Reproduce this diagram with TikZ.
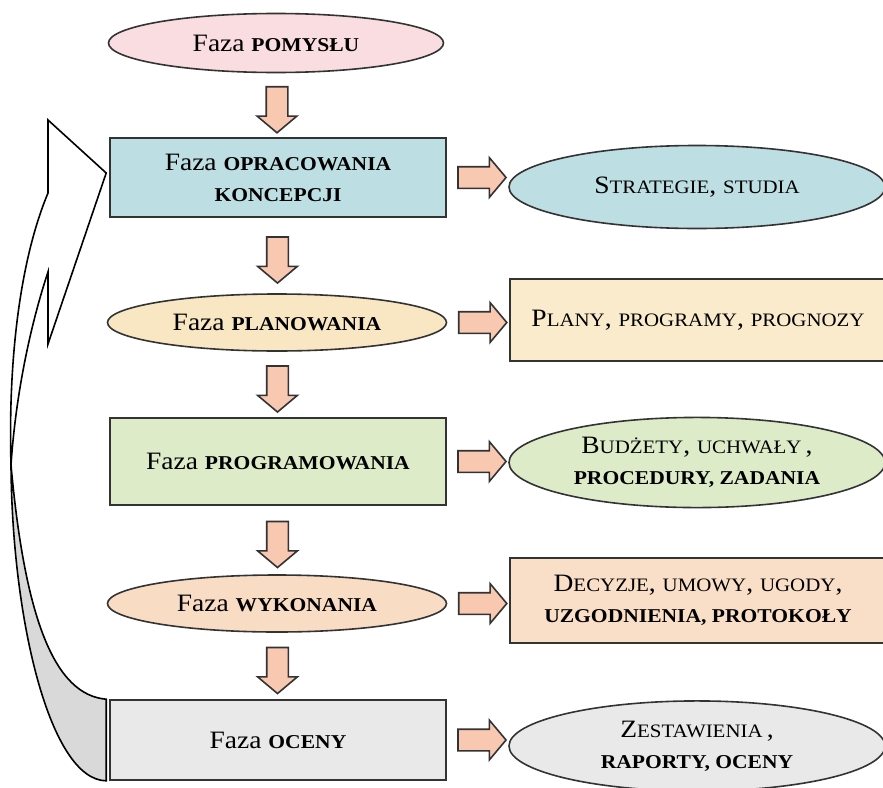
\documentclass[tikz,border=0pt]{standalone}
\usepackage{fontspec}
\setmainfont{Liberation Serif}[FakeStretch=1.1]
\usepackage{xcolor}
\usetikzlibrary{positioning,calc,shapes.geometric,shapes.arrows}
\definecolor{pinkfill}{HTML}{F9DDE0}
\definecolor{tealfill}{HTML}{BDDEE2}
\definecolor{creamoval}{HTML}{F8E7C2}
\definecolor{creambox}{HTML}{F9EBCB}
\definecolor{greenfill}{HTML}{DDEBC8}
\definecolor{peachoval}{HTML}{F9DCC4}
\definecolor{peachbox}{HTML}{FADFC8}
\definecolor{grayfill}{HTML}{E9E9E9}
\definecolor{arrowfill}{HTML}{F8C8B0}
\definecolor{backgray}{HTML}{D9D9D9}
\newcommand{\smc}[1]{{\fontsize{9.5}{15.5}\selectfont #1}}
\newcommand{\bcap}[1]{{\fontsize{9.8}{15.5}\selectfont\bfseries #1}}

\begin{document}
\begin{tikzpicture}[x=0.5pt,y=-0.5pt,line width=0.8pt,
  every node/.style={font=\fontsize{12.5}{15.5}\selectfont,align=center},
  phasebox/.style={draw=black!80,rectangle,minimum width=168pt},
  phaseoval/.style={draw=black!80,ellipse,minimum width=169.5pt,minimum height=28.5pt},
  resultbox/.style={draw=black!80,rectangle,minimum width=188pt},
  resultoval/.style={draw=black!80,ellipse,minimum width=188pt},
  downarr/.style={single arrow,draw=black!80,fill=arrowfill,rotate=-90,
    minimum height=23pt,single arrow head extend=4.5pt,single arrow tip angle=100,inner sep=5pt},
  rightarr/.style={single arrow,draw=black!80,fill=arrowfill,
    minimum height=24pt,single arrow head extend=4.5pt,single arrow tip angle=100,inner sep=5pt}]
  \useasboundingbox (0,0) rectangle (883,787);

  % phases
  \node[phaseoval,fill=pinkfill,minimum width=167.5pt,minimum height=29.5pt] (pomyslu) at (276,43) {Faza \bcap{POMYSŁU}};
  \node[phasebox,fill=tealfill,minimum height=39.5pt] (koncepcji) at (278,177.5) {Faza \bcap{OPRACOWANIA}\\\bcap{KONCEPCJI}};
  \node[phaseoval,fill=creamoval] (planowania) at (277,322.5) {Faza \bcap{PLANOWANIA}};
  \node[phasebox,fill=greenfill,minimum height=43.5pt] (programowania) at (278,461.5) {Faza \bcap{PROGRAMOWANIA}};
  \node[phaseoval,fill=peachoval] (wykonania) at (277,603.5) {Faza \bcap{WYKONANIA}};
  \node[phasebox,fill=grayfill,minimum height=40pt] (oceny) at (278,740) {Faza \bcap{OCENY}};

  % results
  \node[resultoval,fill=tealfill,minimum height=41.5pt] (strategie) at (697,187) {S\smc{TRATEGIE}, \smc{STUDIA}};
  \node[resultbox,fill=creambox,minimum height=41pt] (plany) at (698,320) {P\smc{LANY}, \smc{PROGRAMY}, \smc{PROGNOZY}};
  \node[resultoval,fill=greenfill,minimum height=42.5pt] (budzety) at (697,462.5) {B\smc{UDŻETY}, \smc{UCHWAŁY}\,,\\\bcap{PROCEDURY, ZADANIA}};
  \node[resultbox,fill=peachbox,minimum height=42.5pt] (decyzje) at (698,600.5) {D\smc{ECYZJE}, \smc{UMOWY}, \smc{UGODY},\\\bcap{UZGODNIENIA, PROTOKOŁY}};
  \node[resultoval,fill=grayfill,minimum height=41pt] (zestawienia) at (697,746) {Z\smc{ESTAWIENIA}\,,\\\bcap{RAPORTY, OCENY}};

  % block arrows
  \foreach \a/\b in {pomyslu/koncepcji,koncepcji/planowania,planowania/programowania,programowania/wykonania,wykonania/oceny}
    \node[downarr] (down-\a) at ($(\a.south)!0.5!(\b.north)$) {};
  \foreach \a/\b in {koncepcji/strategie,planowania/plany,programowania/budzety,wykonania/decyzje,oceny/zestawienia}
    \node[rightarr] (right-\a) at ($(\a.east)!0.5!(\b.west |- \a.east)$) {};

  % feedback arrow
  \coordinate (tip) at ($(koncepcji.west)+(-3,-4.5)$);
  \coordinate (twist) at (11,465);
  \coordinate (backtop) at ($(oceny.north west)+(-3,0)$);
  \coordinate (backbot) at ($(oceny.south west)+(-3,0)$);
  \filldraw[fill=backgray] (backbot) .. controls (50,780) and (12,620) .. (twist)
    .. controls (25,620) and (55,695) .. (backtop) -- cycle;
  \filldraw[fill=white] (48,193) -- (48,120) -- (tip) -- (48,344) -- (48,272)
    .. controls (32,320) and (16,390) .. (twist) .. controls (8,360) and (20,260) .. (48,193) -- cycle;
\end{tikzpicture}
\end{document}
